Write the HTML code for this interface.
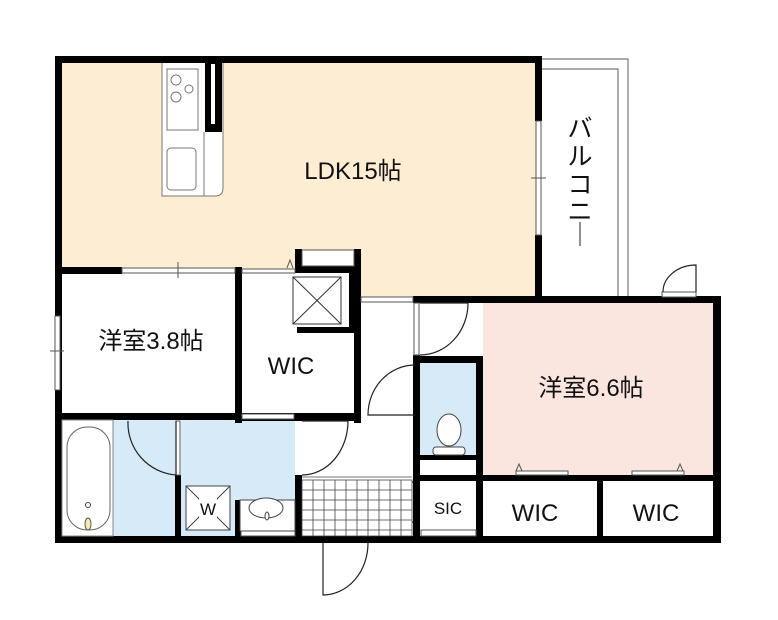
<!DOCTYPE html>
<html><head><meta charset="utf-8"><style>
html,body{margin:0;padding:0;background:#fff;}
svg{display:block}
text{font-family:"Liberation Sans","Noto Sans CJK JP",sans-serif;fill:#111}
</style></head><body>
<svg width="778" height="620" viewBox="0 0 778 620" xmlns="http://www.w3.org/2000/svg">
<!-- fills -->
<rect x="62" y="62" width="476" height="208" fill="#fdeed3"/>
<rect x="360" y="268" width="178" height="31" fill="#fdeed3"/>
<rect x="483" y="302" width="232" height="174" fill="#fbe6df"/>
<rect x="113" y="420" width="64" height="118" fill="#d6eaf8"/>
<rect x="181" y="420" width="114" height="118" fill="#d6eaf8"/>
<rect x="420" y="362" width="57" height="93" fill="#d6eaf8"/>
<!-- balcony -->
<g fill="none" stroke="#777" stroke-width="1.2">
<path d="M540 59 H628 V297"/><path d="M540 69 H618 V297"/>
</g>
<text x="580" y="137" font-size="25" text-anchor="middle">バ</text>
<text x="580" y="165" font-size="25" text-anchor="middle">ル</text>
<text x="580" y="193" font-size="25" text-anchor="middle">コ</text>
<text x="580" y="220" font-size="25" text-anchor="middle">ニ</text>
<line x1="580" y1="222" x2="580" y2="246" stroke="#555" stroke-width="1.3"/>
<!-- kitchen -->
<g fill="#fff" stroke="#777" stroke-width="1">
<path d="M162 62 H223 V188 Q223 196 215 196 H162 Z"/>
<line x1="204" y1="132" x2="204" y2="196"/>
<rect x="167" y="69" width="31" height="61"/>
<rect x="167" y="148" width="29" height="42" rx="4"/>
<circle cx="176" cy="80" r="5"/><circle cx="176" cy="97" r="5"/><circle cx="189" cy="89" r="4"/>
</g>
<rect x="205" y="62" width="17" height="70" fill="#000"/>
<rect x="211" y="64" width="4" height="60" fill="#fff"/>
<!-- walls black -->
<g fill="#000">
<rect x="55" y="56" width="487" height="7"/>
<rect x="55" y="56" width="7" height="487"/>
<rect x="535" y="56" width="7" height="65"/>
<rect x="535" y="235" width="7" height="68"/>
<rect x="413" y="296" width="308" height="7"/>
<rect x="713" y="296" width="8" height="247"/>
<rect x="55" y="536" width="666" height="7"/>
<rect x="55" y="267" width="67" height="7"/>
<rect x="235" y="267" width="7" height="156"/>
<rect x="295" y="266" width="66" height="7"/>
<rect x="295" y="249" width="7" height="24"/>
<rect x="354" y="249" width="7" height="174"/>
<rect x="349" y="273" width="5" height="57"/>
<rect x="297" y="327" width="57" height="6"/>
<rect x="55" y="413" width="187" height="7"/>
<rect x="235" y="413" width="126" height="8"/>
<rect x="175" y="475" width="6" height="68"/>
<rect x="235" y="500" width="6" height="43"/>
<rect x="295" y="475" width="7" height="68"/>
<rect x="413" y="355" width="7" height="188"/>
<rect x="413" y="356" width="70" height="7"/>
<rect x="476" y="356" width="7" height="187"/>
<rect x="413" y="455" width="70" height="5"/>
<rect x="413" y="475" width="308" height="6"/>
<rect x="597" y="475" width="6" height="68"/>
</g>
<!-- windows / thin lines -->
<g fill="#fff" stroke="#555" stroke-width="1">
<rect x="122" y="268" width="113" height="5"/>
<rect x="536" y="121" width="5" height="114"/>
<rect x="55" y="316" width="5" height="74"/>
<rect x="242" y="269" width="53" height="4"/>
<rect x="302" y="250" width="52" height="16"/>
<rect x="361" y="297" width="52" height="5"/>
<rect x="414" y="303" width="5" height="52"/>
<rect x="242" y="414" width="52" height="5"/>
<rect x="176" y="421" width="4" height="54"/>
<rect x="241" y="531" width="54" height="5"/>
<rect x="421" y="530" width="55" height="6"/>
<rect x="516" y="471" width="52" height="4"/>
<rect x="632" y="471" width="52" height="4"/>
<rect x="662" y="292" width="34" height="5"/>
</g>
<g stroke="#555" stroke-width="1" fill="none">
<line x1="178" y1="262" x2="178" y2="278"/><line x1="531" y1="178" x2="546" y2="178"/><line x1="50" y1="351" x2="64" y2="351"/>
<path d="M287 268 L290 260 L293 268"/>
<path d="M516 471 L519 464 L522 471"/><path d="M677 471 L680 464 L683 471"/>
</g>
<!-- shaft -->
<g stroke="#333" stroke-width="1" fill="#fff">
<rect x="293" y="277" width="48" height="47"/>
<line x1="293" y1="277" x2="341" y2="324"/><line x1="341" y1="277" x2="293" y2="324"/>
</g>
<!-- doors -->
<g fill="none" stroke="#222" stroke-width="1.2">
<path d="M696 292 V265 A33 27 0 0 0 663 292"/>
<path d="M420 303 H468 A48 52 0 0 1 420 355"/>
<path d="M415 415 H368 A47 50 0 0 1 415 365"/>
<path d="M302 421 H348 A46 54 0 0 1 302 475"/>
<path d="M128 421 A52 52 0 0 0 176 475 V421"/>
<path d="M413 482 A30 40 0 0 0 383 522 H413"/>
<path d="M323 543 V595 A45 52 0 0 0 368 543"/>
</g>
<!-- tiles -->
<g stroke="#444" stroke-width="0.8">
<rect x="302" y="480" width="110" height="56" fill="#fff"/>
<path d="M302 490H412M302 500H412M302 510H412M302 520H412M302 530H412M313 480V536M324 480V536M335 480V536M346 480V536M357 480V536M368 480V536M379 480V536M390 480V536M401 480V536"/>
<line x1="302" y1="477" x2="412" y2="477"/>
</g>
<!-- bath -->
<rect x="62" y="420" width="51" height="116" fill="#fff" stroke="#888"/>
<rect x="67" y="427" width="43" height="103" rx="20" fill="#fff" stroke="#666"/>
<circle cx="88" cy="505" r="2.5" fill="none" stroke="#444"/>
<ellipse cx="88" cy="524" rx="3" ry="6" fill="#fbe7b0" stroke="#555"/>
<!-- W box and sink -->
<g stroke="#444" stroke-width="1" fill="#fff">
<rect x="186" y="486" width="44" height="44"/>
<line x1="186" y1="486" x2="230" y2="530"/><line x1="230" y1="486" x2="186" y2="530"/>
<rect x="240" y="500" width="55" height="31"/>
<ellipse cx="266" cy="508" rx="17" ry="10"/>
<ellipse cx="267" cy="516" rx="2" ry="4"/>
</g>
<rect x="199" y="496" width="18" height="22" fill="#fff"/>
<text x="208" y="515" font-size="17" text-anchor="middle">W</text>
<!-- toilet -->
<g stroke="#444" stroke-width="1" fill="#fff">
<ellipse cx="449" cy="430" rx="12" ry="16"/>
<rect x="433" y="447" width="32" height="8" rx="3"/>
</g>
<!-- labels -->
<text x="353" y="179" font-size="24" text-anchor="middle">LDK15帖</text>
<text x="151" y="349" font-size="24" text-anchor="middle">洋室3.8帖</text>
<text x="291" y="374" font-size="24" text-anchor="middle">WIC</text>
<text x="591" y="396" font-size="24" text-anchor="middle">洋室6.6帖</text>
<text x="448" y="514" font-size="17" text-anchor="middle">SIC</text>
<text x="535" y="521" font-size="24" text-anchor="middle">WIC</text>
<text x="656" y="521" font-size="24" text-anchor="middle">WIC</text>
</svg>
</body></html>
